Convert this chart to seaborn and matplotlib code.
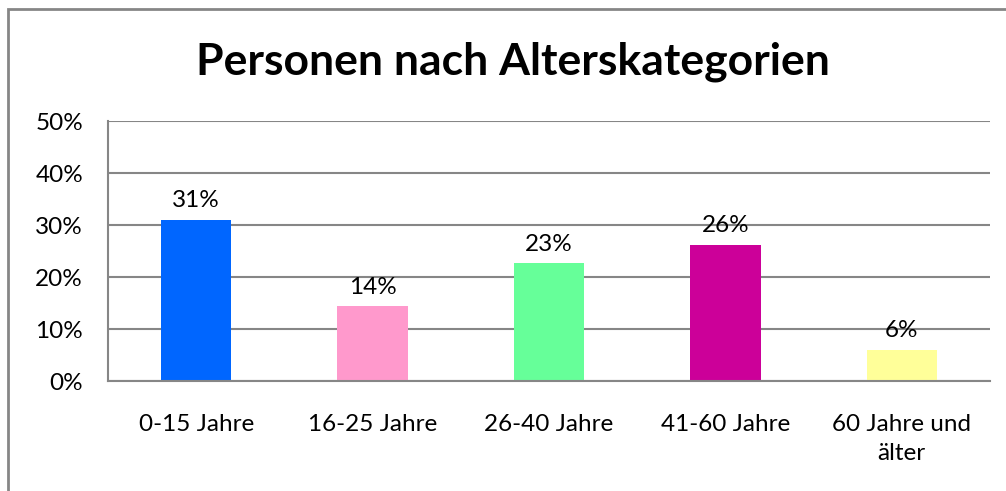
import matplotlib
matplotlib.use("Agg")
import matplotlib.pyplot as plt
import seaborn as sns
import pandas as pd
from matplotlib.patches import Rectangle
from matplotlib.ticker import FuncFormatter, FixedLocator

# Daten
kategorien = ["0-15 Jahre", "16-25 Jahre", "26-40 Jahre", "41-60 Jahre", "60 Jahre und\nälter"]
anteile = [0.31, 0.144, 0.227, 0.262, 0.06]
farben = ["#0066FF", "#FF99CC", "#66FF99", "#CC0099", "#FFFF99"]
titel = "Personen nach Alterskategorien"

sns.set_style("white")
plt.rcParams["font.family"] = ["Lato", "DejaVu Sans"]
plt.rcParams["text.color"] = "black"
plt.rcParams["xtick.color"] = "black"
plt.rcParams["ytick.color"] = "black"

df = pd.DataFrame({"Kategorie": kategorien, "Anteil": anteile})

fig = plt.figure(figsize=(10.06, 4.91), dpi=100)
ax = fig.add_axes([108 / 1006, 110 / 491, 882 / 1006, 260 / 491])

sns.barplot(data=df, x="Kategorie", y="Anteil", hue="Kategorie",
            palette=farben, width=0.4, legend=False, saturation=1,
            linewidth=0, ax=ax)

ax.set_ylim(0, 0.5)
ax.set_xlim(-0.5, len(kategorien) - 0.5)
ax.set_yticks([0, 0.1, 0.2, 0.3, 0.4, 0.5])
ax.yaxis.set_major_formatter(FuncFormatter(lambda v, _: f"{v * 100:.0f}%"))
ax.grid(axis="y", color="#868686", linewidth=1.5)
ax.set_axisbelow(True)
ax.set_xlabel("")
ax.set_ylabel("")

for s in ["top", "right"]:
    ax.spines[s].set_visible(False)
for s in ["left", "bottom"]:
    ax.spines[s].set_color("#868686")
    ax.spines[s].set_linewidth(1.5)

ax.tick_params(axis="y", length=6, width=1.5, color="#868686", labelsize=17.5,
               pad=12, labelcolor="black")
ax.tick_params(axis="x", which="major", length=0, labelsize=17.5, pad=24,
               labelcolor="black")
ax.xaxis.set_minor_locator(FixedLocator([i - 0.5 for i in range(len(kategorien) + 1)]))
ax.tick_params(axis="x", which="minor", length=7, width=1.5, color="#868686")
for lbl in ax.get_xticklabels():
    lbl.set_linespacing(1.45)

for i, v in enumerate(anteile):
    ax.annotate(f"{v * 100:.0f}%", (i, v), xytext=(0, 6), textcoords="offset points",
                ha="center", va="bottom", fontsize=17.5)

fig.text(513 / 1006, 1 - 62 / 491, titel, ha="center", va="center",
         fontsize=32, fontweight="bold")

fig.patches.append(Rectangle((8 / 1006, -0.1), 1.2, 1 - 9 / 491 + 0.1,
                             transform=fig.transFigure, fill=False,
                             edgecolor="#868686", linewidth=2))

fig.savefig("out.png", dpi=100)
